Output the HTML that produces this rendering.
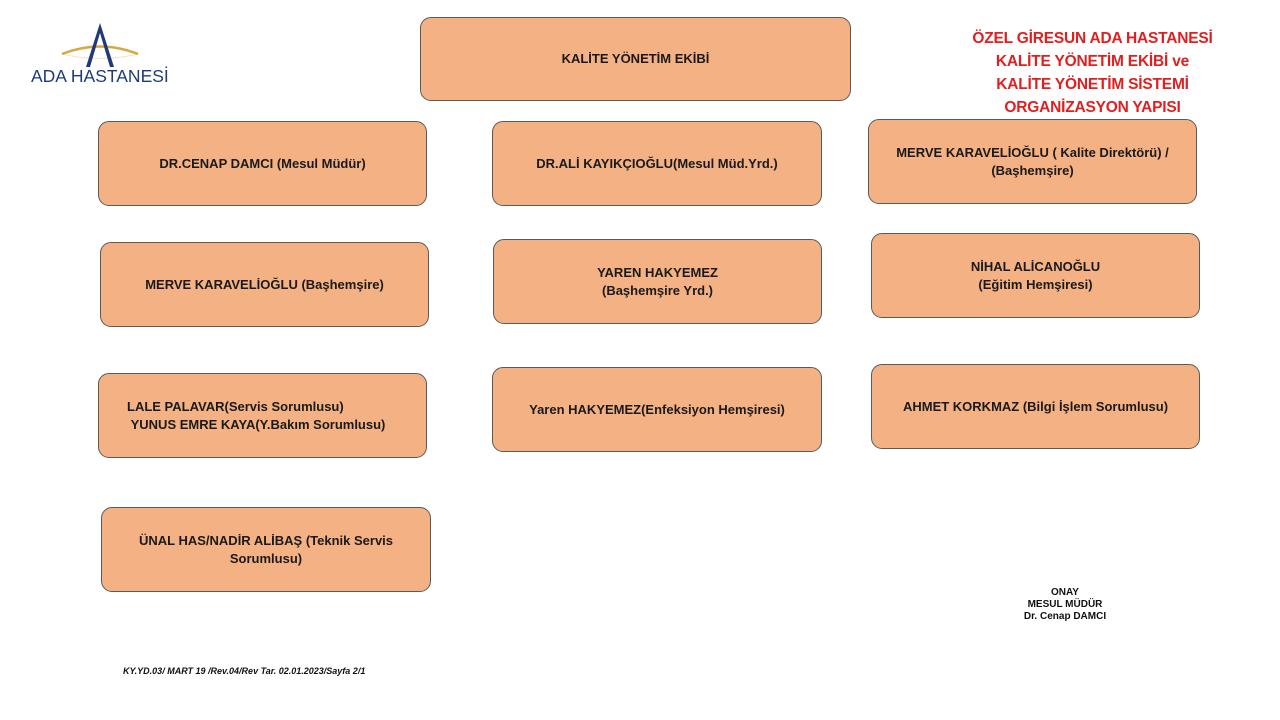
<!DOCTYPE html>
<html><head><meta charset="utf-8"><style>
body{margin:0;width:1280px;height:720px;background:#fff;position:relative;overflow:hidden;font-family:"Liberation Sans",sans-serif}
.b{position:absolute;background:#f4b183;border:1px solid #5a5a5a;border-radius:11px;box-sizing:border-box;display:flex;align-items:center;justify-content:center;text-align:center;font-weight:bold;font-size:13px;color:#1a1a1a;line-height:18px}
.t{position:absolute;font-weight:bold;text-align:center}
</style></head><body>
<svg style="position:absolute;left:20px;top:15px" width="170" height="80">
<path d="M42,39 Q80,24 118,39" fill="none" stroke="#d9a640" stroke-width="2.5"/>
<path d="M42,39 Q80,48 118,39" fill="none" stroke="#d9a640" stroke-width="1" opacity="0.3"/>
<polygon points="80,8 66,52 70,52 80,18 90,52 94,52" fill="#1f3a7a"/>
<text x="11" y="67" font-family="Liberation Sans" font-size="17.5" fill="#1f3a7a">ADA HASTANESİ</text>
</svg>
<div class="b" style="left:420px;top:17px;width:431px;height:84px">KALİTE YÖNETİM EKİBİ</div>
<div class="t" style="left:955px;top:27px;width:275px;color:#e02020;font-size:15.5px;line-height:23px;letter-spacing:-0.2px">ÖZEL GİRESUN ADA HASTANESİ<br>KALİTE YÖNETİM EKİBİ ve<br>KALİTE YÖNETİM SİSTEMİ<br>ORGANİZASYON YAPISI</div>
<div class="b" style="left:98px;top:121px;width:329px;height:85px">DR.CENAP DAMCI (Mesul Müdür)</div>
<div class="b" style="left:492px;top:121px;width:330px;height:85px">DR.ALİ KAYIKÇIOĞLU(Mesul Müd.Yrd.)</div>
<div class="b" style="left:868px;top:119px;width:329px;height:85px">MERVE KARAVELİOĞLU ( Kalite Direktörü) /<br>(Başhemşire)</div>
<div class="b" style="left:100px;top:242px;width:329px;height:85px">MERVE KARAVELİOĞLU (Başhemşire)</div>
<div class="b" style="left:493px;top:239px;width:329px;height:85px">YAREN HAKYEMEZ<br>(Başhemşire Yrd.)</div>
<div class="b" style="left:871px;top:233px;width:329px;height:85px">NİHAL ALİCANOĞLU<br>(Eğitim Hemşiresi)</div>
<div class="b" style="left:98px;top:373px;width:329px;height:85px;justify-content:flex-start;padding-left:28px;text-align:left">LALE PALAVAR(Servis Sorumlusu)<br>&nbsp;YUNUS EMRE KAYA(Y.Bakım Sorumlusu)</div>
<div class="b" style="left:492px;top:367px;width:330px;height:85px">Yaren HAKYEMEZ(Enfeksiyon Hemşiresi)</div>
<div class="b" style="left:871px;top:364px;width:329px;height:85px">AHMET KORKMAZ (Bilgi İşlem Sorumlusu)</div>
<div class="b" style="left:101px;top:507px;width:330px;height:85px">ÜNAL HAS/NADİR ALİBAŞ (Teknik Servis<br>Sorumlusu)</div>
<div class="t" style="left:990px;top:587px;width:150px;font-size:10px;line-height:12px;color:#111">ONAY<br>MESUL MÜDÜR<br>Dr. Cenap DAMCI</div>
<div style="position:absolute;left:123px;top:666px;font-size:9px;font-style:italic;font-weight:bold;color:#111">KY.YD.03/ MART 19 /Rev.04/Rev Tar. 02.01.2023/Sayfa 2/1</div>
</body></html>
